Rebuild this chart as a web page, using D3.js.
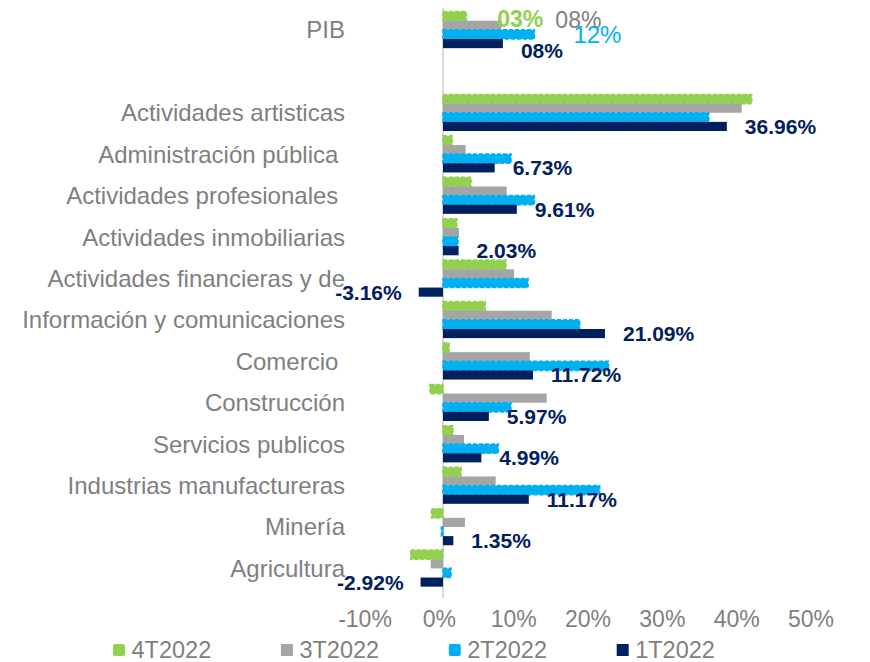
<!DOCTYPE html>
<html>
<head>
<meta charset="utf-8">
<script src="https://cdn.jsdelivr.net/npm/d3@7/dist/d3.min.js"></script>
<style>
  html, body { margin: 0; padding: 0; background: #ffffff; }
  svg { display: block; }
  text { font-family: "Liberation Sans", Arial, sans-serif; }
</style>
</head>
<body>
<div id="chart"></div>
<script>
// ---- data ----
const categories = [
  "PIB",
  "",
  "Actividades artisticas",
  "Administración pública ",
  "Actividades profesionales ",
  "Actividades inmobiliarias",
  "Actividades financieras y de",
  "Información y comunicaciones",
  "Comercio ",
  "Construcción",
  "Servicios publicos",
  "Industrias manufactureras",
  "Minería",
  "Agricultura"
];
const seriesNames = ["4T2022", "3T2022", "2T2022", "1T2022"];
const s4T2022 = [3.03, null, 40.2, 1.2, 3.65, 1.8, 8.2, 5.5, 0.8, -1.7, 1.3, 2.35, -1.5, -4.2];
const s3T2022 = [7.6, null, 38.9, 2.95, 8.3, 2.08, 9.25, 14.15, 11.3, 13.5, 2.73, 6.86, 2.86, -1.6];
const s2T2022 = [11.9, null, 34.6, 8.85, 11.9, 1.95, 11.07, 17.8, 21.55, 8.85, 7.2, 20.4, -0.2, 1.05];
const s1T2022 = [7.8, null, 36.96, 6.73, 9.61, 2.03, -3.16, 21.09, 11.72, 5.97, 4.99, 11.17, 1.35, -2.92];
const labels1T = ["08%", null, "36.96%", "6.73%", "9.61%", "2.03%", "-3.16%", "21.09%", "11.72%", "5.97%", "4.99%", "11.17%", "1.35%", "-2.92%"];
const pibLabels = ["03%", "08%", "12%", "08%"];
const tickValues = [-10, 0, 10, 20, 30, 40, 50];
const tickLabels = ["-10%", "0%", "10%", "20%", "30%", "40%", "50%"];

// ---- styles ----
const colors = ["#92D050", "#A5A5A5", "#00B0F0", "#002060"];
const dashed = [true, false, true, false];
const pibLabelColors = ["#92D050", "#7F7F7F", "#00B0F0", "#002060"];
const pibLabelStyle = [
  {dx: 31, dy: 3, size: 23, weight: "bold"},
  {dx: 54, dy: -5, size: 23, weight: "normal"},
  {dx: 39, dy: 0, size: 24, weight: "normal"},
  {dx: 18, dy: 7, size: 21, weight: "bold"}
];

const W = 870, H = 662;
const svg = d3.select("#chart").append("svg").attr("width", W).attr("height", H);

const allSeries = [s4T2022, s3T2022, s2T2022, s1T2022];

// bar scale (secondary-like scale as in source) and axis label scale
const x = d3.scaleLinear().domain([0, 40]).range([443, 443 + 7.68 * 40]);
const xAxisScale = d3.scaleLinear().domain([-10, 50]).range([365, 811]);

const y = d3.scaleBand().domain(d3.range(categories.length)).range([5, 593.3])
  .paddingInner(0.118).paddingOuter(0.16);
const ySub = d3.scaleBand().domain(d3.range(4)).range([0, y.bandwidth()]);

// category labels
svg.append("g").selectAll("text").data(categories).join("text")
  .attr("x", 345)
  .attr("y", (d, i) => y(i) + y.bandwidth() / 2)
  .attr("text-anchor", "end")
  .attr("dominant-baseline", "central")
  .style("white-space", "pre")
  .attr("font-size", 24)
  .attr("fill", "#7F7F7F")
  .text(d => d);

// zero axis line
svg.append("line")
  .attr("x1", x(0)).attr("x2", x(0))
  .attr("y1", 8).attr("y2", 598)
  .attr("stroke", "#D9D9D9").attr("stroke-width", 2);

// bars
allSeries.forEach((ser, s) => {
  const g = svg.append("g");
  const data = ser.map((v, i) => ({v, i})).filter(d => d.v !== null);
  g.selectAll("rect").data(data).join("rect")
    .attr("x", d => Math.min(x(0), x(d.v)))
    .attr("y", d => y(d.i) + ySub(s))
    .attr("width", d => Math.abs(x(d.v) - x(0)))
    .attr("height", ySub.bandwidth())
    .attr("fill", colors[s])
    .attr("stroke", dashed[s] ? colors[s] : "none")
    .attr("stroke-width", dashed[s] ? 1.6 : 0)
    .attr("stroke-dasharray", dashed[s] ? "4,2" : null);
});

// 1T2022 data labels (non-PIB)
const lblData = s1T2022.map((v, i) => ({v, i, t: labels1T[i]})).filter(d => d.v !== null && d.i > 0);
svg.append("g").selectAll("text").data(lblData).join("text")
  .attr("x", d => d.v >= 0 ? x(d.v) + 18 : x(d.v) - 17)
  .attr("y", d => y(d.i) + ySub(3) + ySub.bandwidth() / 2)
  .attr("text-anchor", d => d.v >= 0 ? "start" : "end")
  .attr("dominant-baseline", "central")
  .attr("font-size", 21)
  .attr("font-weight", "bold")
  .attr("fill", "#002060")
  .text(d => d.t);

// PIB labels
allSeries.forEach((ser, s) => {
  const st = pibLabelStyle[s];
  svg.append("text")
    .attr("x", x(ser[0]) + st.dx)
    .attr("y", y(0) + ySub(s) + ySub.bandwidth() / 2 + st.dy)
    .attr("dominant-baseline", "central")
    .attr("font-size", st.size)
    .attr("font-weight", st.weight)
    .attr("fill", pibLabelColors[s])
    .text(pibLabels[s]);
});

// x tick labels
svg.append("g").selectAll("text").data(tickValues).join("text")
  .attr("x", d => xAxisScale(d))
  .attr("y", 619)
  .attr("text-anchor", "middle")
  .attr("dominant-baseline", "central")
  .attr("font-size", 23)
  .attr("fill", "#7F7F7F")
  .text((d, i) => tickLabels[i]);

// legend
const leg = svg.append("g").selectAll("g").data(seriesNames).join("g")
  .attr("transform", (d, i) => `translate(${113 + i * 167.9},650)`);
leg.append("rect")
  .attr("x", 0).attr("y", -6).attr("width", 12).attr("height", 12)
  .attr("rx", (d, i) => dashed[i] ? 2 : 0)
  .attr("fill", (d, i) => colors[i]);
leg.append("text")
  .attr("x", 18.5).attr("y", 0)
  .attr("dominant-baseline", "central")
  .attr("font-size", 23.5)
  .attr("fill", "#7F7F7F")
  .text(d => d);
</script>
</body>
</html>
